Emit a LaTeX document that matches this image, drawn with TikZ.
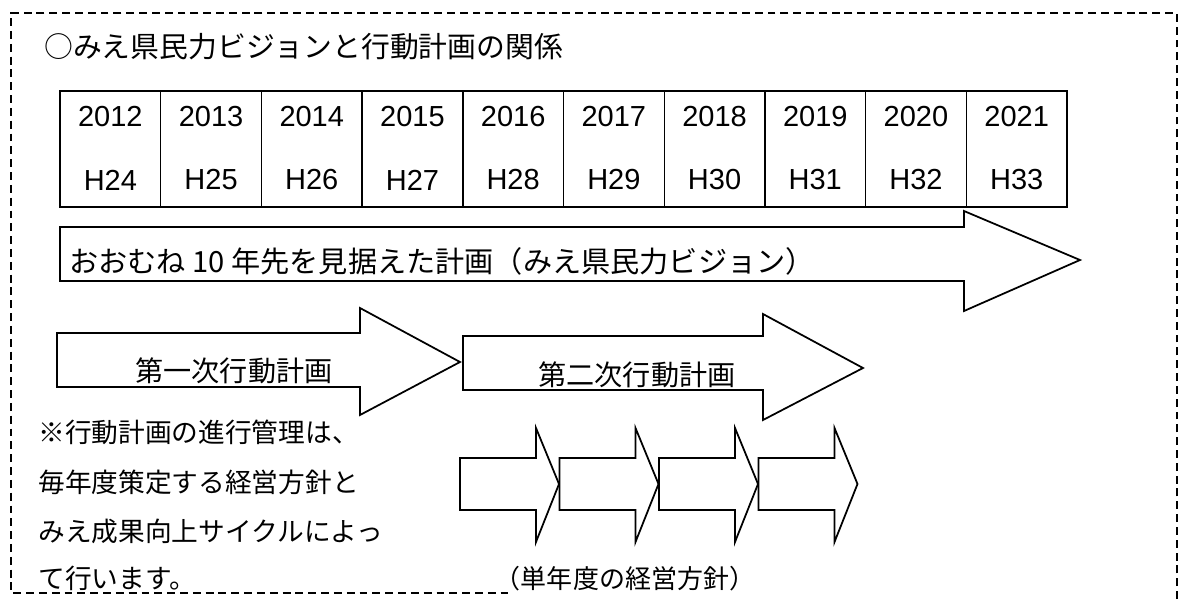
\documentclass[tikz,border=0pt]{standalone}
\usepackage{fontspec}
\setmainfont{Liberation Sans}
\newfontfamily\jpfont{Noto Sans CJK JP}
\usetikzlibrary{calc}

\tikzset{
  frameline/.style={line width=1.1pt, dash pattern=on 4.5pt off 2.8pt},
  yearbox/.style={draw, line width=0.8pt},
  yeartext/.style={font=\fontsize{16.5}{18}\selectfont, inner sep=0pt},
  blockarrow/.style={draw, line width=1pt, line join=miter, fill=white},
  jptext/.style={font=\jpfont\fontsize{16}{18}\selectfont, inner sep=0pt},
  notetext/.style={font=\jpfont\fontsize{15.2}{17}\selectfont, inner sep=0pt, anchor=west}
}

\begin{document}
\begin{tikzpicture}[x=0.02cm, y=-0.02cm]
\useasboundingbox (0,0) rectangle (1183,599);

% dashed frame
\coordinate (FA) at (11,13);
\coordinate (FB) at (1177,13);
\coordinate (FC) at (1177,599);
\coordinate (FD) at (11,593);
\coordinate (FE) at (508,593);
\draw[frameline] (FC) -- (FB) -- (FA) -- (FD) -- (FE);

\node[jptext, anchor=west, font=\jpfont\fontsize{16.4}{18}\selectfont] (title) at (44,47) {○みえ県民力ビジョンと行動計画の関係};

% year table
\foreach \yr [count=\i from 0] in {2012,...,2021} {
  \pgfmathsetmacro\xl{60+100.7*\i}
  \pgfmathtruncatemacro\hy{\yr-1988}
  \draw[yearbox] (\xl,91) rectangle ++(100.7,116);
  \node[yeartext] (y\yr) at (\xl+50.35,117) {\yr};
  \node[yeartext] (h\yr) at (\xl+50.35,180) {H\hy};
}

% ten year vision
\coordinate (VA) at (60,227);
\draw[blockarrow] (VA) -- ++(904,0) -- ++(0,-16) -- (1080,260) -- (964,311) -- ++(0,-30) -- (60,281) -- cycle;
\node[jptext, anchor=west, font=\jpfont\fontsize{16.6}{18}\selectfont] (vision) at (69,261) {おおむね 10 年先を見据えた計画（みえ県民力ビジョン）};

% first and second action plans
\coordinate (PA) at (57,333);
\draw[blockarrow] (PA) -- (360,333) -- (360,308) -- (460,362) -- (360,415) -- (360,387) -- (57,387) -- cycle;
\node[jptext] (plan1) at (234,371) {第一次行動計画};
\coordinate (PB) at (463,336);
\draw[blockarrow] (PB) -- (763,336) -- (763,314) -- (863,368) -- (763,420) -- (763,390) -- (463,390) -- cycle;
\node[jptext] (plan2) at (637,375) {第二次行動計画};

% yearly policies
\foreach \i in {0,...,3} {
  \pgfmathsetmacro\xs{460+99.5*\i}
  \draw[blockarrow] (\xs,458) -- ++(76,0) -- ++(0,-30) -- ++(23,56) -- ++(-23,58) -- ++(0,-32) -- ++(-76,0) -- cycle;
}
\node[jptext, font=\jpfont\fontsize{14.8}{17}\selectfont] (yearly) at (625,579) {（単年度の経営方針）};

% note
\node[notetext] (note1) at (38,432) {※行動計画の進行管理は、};
\node[notetext] (note2) at (38,482) {毎年度策定する経営方針と};
\node[notetext] (note3) at (38,531) {みえ成果向上サイクルによっ};
\node[notetext] (note4) at (38,578) {て行います。};

\end{tikzpicture}
\end{document}
